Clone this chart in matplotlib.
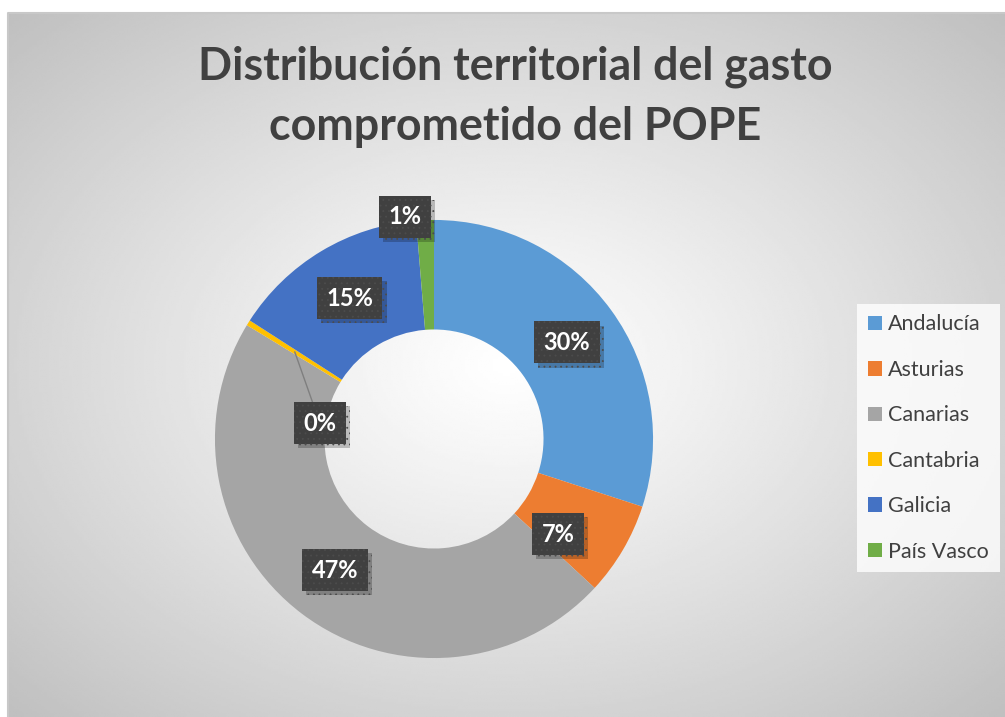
import numpy as np
import matplotlib
matplotlib.use("Agg")
import matplotlib.pyplot as plt
import matplotlib.patheffects as pe

# datos (porcentaje del gasto comprometido)
regiones = ['Andalucía', 'Asturias', 'Canarias', 'Cantabria', 'Galicia', 'País Vasco']
gasto = [30.0, 6.9, 46.8, 0.4, 14.6, 1.3]
colores = ['#5B9BD5', '#ED7D31', '#A5A5A5', '#FFC000', '#4472C4', '#70AD47']
titulo = 'Distribución territorial del gasto\ncomprometido del POPE'

# etiquetas que Excel mueve fuera del centro del anillo (coordenadas del eje)
desplazadas = {'Asturias': (0.566, -0.434),
               'Cantabria': (-0.521, 0.073),
               'País Vasco': (-0.132, 1.014)}

W, H = 1005, 717
fig = plt.figure(figsize=(W / 100, H / 100), dpi=100)
plt.rcParams['hatch.linewidth'] = 0.6

# fondo con degradado radial
bg = fig.add_axes([0, 0, 1, 1])
bg.set_xlim(0, W)
bg.set_ylim(H, 0)
bg.axis('off')
x0, y0 = 8, 13
xx, yy = np.meshgrid(np.linspace(x0, W, 400), np.linspace(y0, H, 300))
cx, cy = (x0 + W) / 2, (y0 + H) / 2
d = np.sqrt(((xx - cx) / (W - cx)) ** 2 + ((yy - cy) / (H - cy)) ** 2) / np.sqrt(2)
grad = 1 - 0.25 * np.clip(d, 0, 1) ** 1.1
bg.imshow(grad, extent=(x0, W, H, y0), cmap='gray', vmin=0, vmax=1,
          aspect='auto', interpolation='bilinear')
bg.plot([x0, x0, W], [H, y0, y0], color='#c8c8c8', lw=1.5)

# titulo
lineas = titulo.split('\n')
for yb, linea in zip([80, 140], lineas):
    bg.text(515, yb, linea, ha='center', va='baseline', fontsize=32.2,
            fontweight='bold', family='Lato', color='#404040')

# anillo
ax = fig.add_axes([(434 - 230) / W, (H - 439 - 230) / H, 460 / W, 460 / H])
wedges, _ = ax.pie(gasto, colors=colores, startangle=90, counterclock=False,
                   radius=1, wedgeprops=dict(width=0.5, linewidth=0))
ax.set_xlim(-1.05, 1.05)
ax.set_ylim(-1.05, 1.05)
ax.axis('off')

total = sum(gasto)
sombra = [pe.withSimplePatchShadow(offset=(3, -3), shadow_rgbFace='k', alpha=0.22)]
for w, nombre, v in zip(wedges, regiones, gasto):
    ang = np.deg2rad((w.theta1 + w.theta2) / 2)
    pmid = (0.75 * np.cos(ang), 0.75 * np.sin(ang))
    pos = desplazadas.get(nombre, pmid)
    caja = dict(boxstyle='square,pad=0.4', facecolor='#404040',
                edgecolor='#4c4c4c', linewidth=0, hatch='...')
    etiqueta = f'{round(v / total * 100):d}%'
    if nombre == 'Cantabria':
        t = ax.annotate(etiqueta, xy=pmid, xytext=pos,
                        ha='center', va='center', fontsize=17, fontweight='bold',
                        family='Lato', color='white', bbox=caja,
                        arrowprops=dict(arrowstyle='-', color='#7f7f7f', lw=1,
                                        shrinkA=0, shrinkB=0))
    else:
        t = ax.text(pos[0], pos[1], etiqueta, ha='center', va='center',
                    fontsize=17, fontweight='bold', family='Lato',
                    color='white', bbox=caja)
    t.get_bbox_patch().set_path_effects(sombra + [pe.Normal()])

# leyenda
leg = fig.legend(wedges, regiones, loc='center left',
                 bbox_to_anchor=(857 / W, (H - 438) / H), frameon=True,
                 fancybox=False, prop=dict(family='Lato', size=15.5),
                 labelcolor='#404040', handlelength=0.65, handleheight=0.65,
                 handletextpad=0.3, labelspacing=1.18, borderpad=0.5,
                 borderaxespad=0)
leg.get_frame().set_facecolor((1, 1, 1, 0.2))
leg.get_frame().set_edgecolor('none')

fig.savefig('out.png', dpi=100)
